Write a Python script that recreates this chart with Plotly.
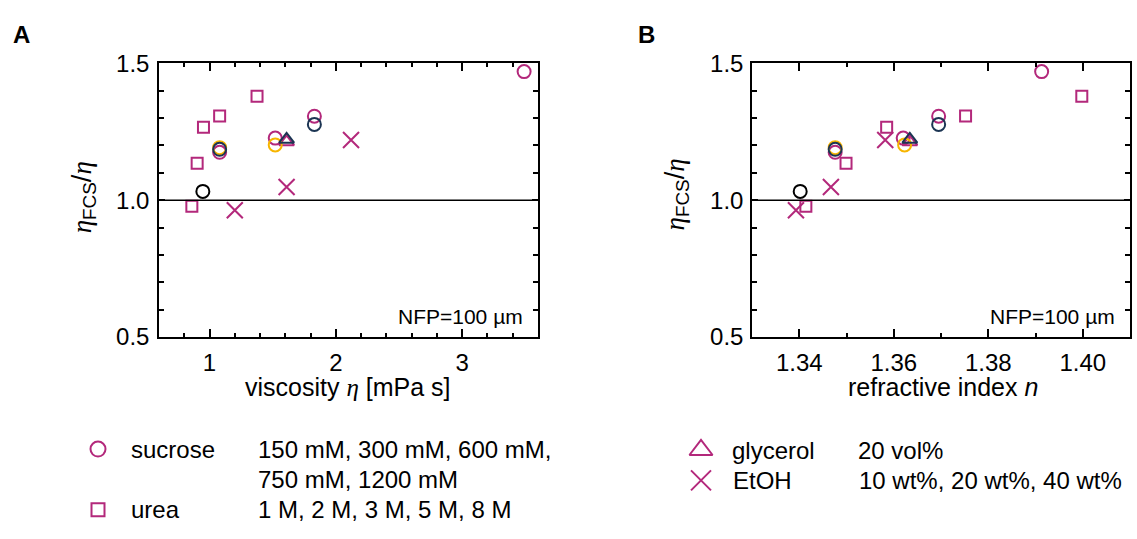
import plotly.graph_objects as go

W, H = 1137, 539
MAG = "#B3287B"
NAVY = "#1C3553"
GOLD = "#F7B500"
BLACK = "#000000"
FONT = "Liberation Sans, Arial, sans-serif"

# ---------------- data ----------------
# sucrose (magenta circles)
suc_eta = [1.08, 1.52, 1.83, 3.49]
suc_n = [1.3476, 1.3620, 1.3695, 1.3913]
suc_r = [1.175, 1.227, 1.307, 1.470]
# gold circles
gold_eta = [1.08, 1.52]
gold_n = [1.3476, 1.3623]
gold_r = [1.192, 1.202]
# navy circles
navy_eta = [1.08, 1.83]
navy_n = [1.3476, 1.3695]
navy_r = [1.186, 1.277]
# black circle
blk_eta = [0.947]
blk_n = [1.3402]
blk_r = [1.032]
# urea (magenta squares)
urea_eta = [0.86, 0.902, 0.952, 1.08, 1.376]
urea_n = [1.3414, 1.3499, 1.3585, 1.3752, 1.3998]
urea_r = [0.978, 1.135, 1.267, 1.308, 1.380]
# EtOH (magenta crosses)
etoh_eta = [1.20, 1.61, 2.12]
etoh_n = [1.3393, 1.3467, 1.3582]
etoh_r = [0.963, 1.048, 1.220]
# glycerol (triangles)
gly_eta = [1.61]
gly_n = [1.3634]
gly_r = [1.213]
glyn_eta = [1.61]
glyn_n = [1.3634]
glyn_r = [1.222]

y_ticks = [0.5, 1.0, 1.5]
y_ticklabels = ["0.5", "1.0", "1.5"]
xa_ticks = [1, 2, 3]
xb_ticks = [1.34, 1.36, 1.38, 1.40]
xb_ticklabels = ["1.34", "1.36", "1.38", "1.40"]

legend_rows = [
    ("circle-open", "sucrose", "150 mM, 300 mM, 600 mM,<br>750 mM, 1200 mM"),
    ("square-open", "urea", "1 M, 2 M, 3 M, 5 M, 8 M"),
    ("triangle-up-open", "glycerol", "20 vol%"),
    ("x-thin-open", "EtOH", "10 wt%, 20 wt%, 40 wt%"),
]

fig = go.Figure()

def add_series(xs, ys, symbol, color, size, xa, ya):
    fig.add_trace(go.Scatter(
        x=xs, y=ys, mode="markers", xaxis=xa, yaxis=ya, showlegend=False,
        marker=dict(symbol=symbol, size=size, color=color,
                    line=dict(color=color, width=2)),
        cliponaxis=False))

for xa, ya, key in [("x", "y", "eta"), ("x2", "y2", "n")]:
    pick = lambda e, n: e if key == "eta" else n
    add_series(pick(urea_eta, urea_n), urea_r, "square-open", MAG, 11, xa, ya)
    add_series(pick(etoh_eta, etoh_n), etoh_r, "x-thin-open", MAG, 16, xa, ya)
    add_series(pick(suc_eta, suc_n), suc_r, "circle-open", MAG, 13, xa, ya)
    add_series(pick(gly_eta, gly_n), gly_r, "triangle-up-open", MAG, 13, xa, ya)
    add_series(pick(gold_eta, gold_n), gold_r, "circle-open", GOLD, 13, xa, ya)
    add_series(pick(navy_eta, navy_n), navy_r, "circle-open", NAVY, 13, xa, ya)
    add_series(pick(glyn_eta, glyn_n), glyn_r, "triangle-up-open", NAVY, 13, xa, ya)
    add_series(pick(blk_eta, blk_n), blk_r, "circle-open", BLACK, 13, xa, ya)

# legend markers on a full-figure pixel axis
leg_x = [98, 98, 701, 701]
leg_y = [458, 522, 459, 491]
leg_size = [15, 13, 20, 20]
for (sym, _, _), lx, ly, s in zip(legend_rows, leg_x, leg_y, leg_size):
    fig.add_trace(go.Scatter(
        x=[lx], y=[ly], mode="markers", xaxis="x3", yaxis="y3", showlegend=False,
        marker=dict(symbol=sym, size=s, color=MAG, line=dict(color=MAG, width=2)),
        cliponaxis=False))

tickfont = dict(family=FONT, size=24, color="black")
common_axis = dict(showline=True, linecolor="black", linewidth=1.5, mirror="allticks",
                   ticks="inside", tickcolor="black", tickwidth=1.5, showgrid=False,
                   zeroline=False, tickfont=tickfont)

yl = 1 - 340 / H
yh = 1 - 52 / H

fig.update_layout(
    width=W, height=H, margin=dict(l=0, r=0, t=0, b=0),
    paper_bgcolor="white", plot_bgcolor="rgba(0,0,0,0)",
    font=dict(family=FONT, color="black"),
    xaxis=dict(domain=[159 / W, 538 / W], range=[0.6, 3.6], tickvals=xa_ticks,
               ticklen=8, ticklabelstandoff=3,
               minor=dict(dtick=0.2, tick0=0, ticks="inside", ticklen=4,
                          tickcolor="black", tickwidth=1.5),
               anchor="y", **common_axis),
    yaxis=dict(domain=[yl, yh], range=[0.5, 1.5], tickvals=y_ticks, ticktext=y_ticklabels,
               ticklen=6, ticklabelstandoff=3,
               minor=dict(dtick=0.1, tick0=0, ticks="inside", ticklen=5,
                          tickcolor="black", tickwidth=1.5),
               anchor="x", **common_axis),
    xaxis2=dict(domain=[752 / W, 1130 / W], range=[1.33, 1.41], tickvals=xb_ticks,
                ticktext=xb_ticklabels, ticklen=8, ticklabelstandoff=3,
                minor=dict(dtick=0.01, tick0=1.30, ticks="inside", ticklen=4,
                           tickcolor="black", tickwidth=1.5),
                anchor="y2", **common_axis),
    yaxis2=dict(domain=[yl, yh], range=[0.5, 1.5], tickvals=y_ticks, ticktext=y_ticklabels,
                ticklen=6, ticklabelstandoff=2,
                minor=dict(dtick=0.1, tick0=0, ticks="inside", ticklen=5,
                           tickcolor="black", tickwidth=1.5),
                anchor="x2", **common_axis),
    xaxis3=dict(domain=[0, 1], range=[0, W], visible=False, anchor="y3"),
    yaxis3=dict(domain=[0, 1], range=[H, 0], visible=False, anchor="x3"),
)

# reference line at ratio 1
for xr, yr in [("x domain", "y"), ("x2 domain", "y2")]:
    fig.add_shape(type="line", xref=xr, yref=yr, x0=0, x1=1, y0=1.0, y1=1.0,
                  line=dict(color="black", width=1.5))

def ann(text, px, py, size=24, xanchor="center", yanchor="middle", angle=0):
    fig.add_annotation(text=text, xref="paper", yref="paper", x=px / W, y=1 - py / H,
                       xanchor=xanchor, yanchor=yanchor, showarrow=False, textangle=angle,
                       font=dict(family=FONT, size=size, color="black"))

eta = "<span style='font-family:Liberation Serif; font-style:italic'>η</span>"
ann("<b>A</b>", 21, 22, size=24)
ann("<b>B</b>", 646, 22, size=24)
ann(f"viscosity {eta} [mPa s]", 348, 393, size=25)
ann("refractive index <i>n</i>", 943, 393, size=25)
ann(f"{eta}<sub>FCS</sub>/{eta}", 84, 193, size=27, angle=-90)
ann(f"{eta}<sub>FCS</sub>/{eta}", 677, 190, size=27, angle=-90)
ann("NFP=100 µm", 525, 318, size=21, xanchor="right")
ann("NFP=100 µm", 1117, 318, size=21, xanchor="right")

text_x = [129, 129, 730, 731]
desc_x = [256, 256, 856, 857]
for (_, name, desc), lx, ly, tx, dx in zip(legend_rows, leg_x, leg_y, text_x, desc_x):
    ann(name, tx, ly, xanchor="left")
    if "<br>" in desc:
        first, second = desc.split("<br>")
        ann(first, dx, ly, xanchor="left")
        ann(second, dx, ly + 32, xanchor="left")
    else:
        ann(desc, dx, ly, xanchor="left")

fig.write_html("out.html")
